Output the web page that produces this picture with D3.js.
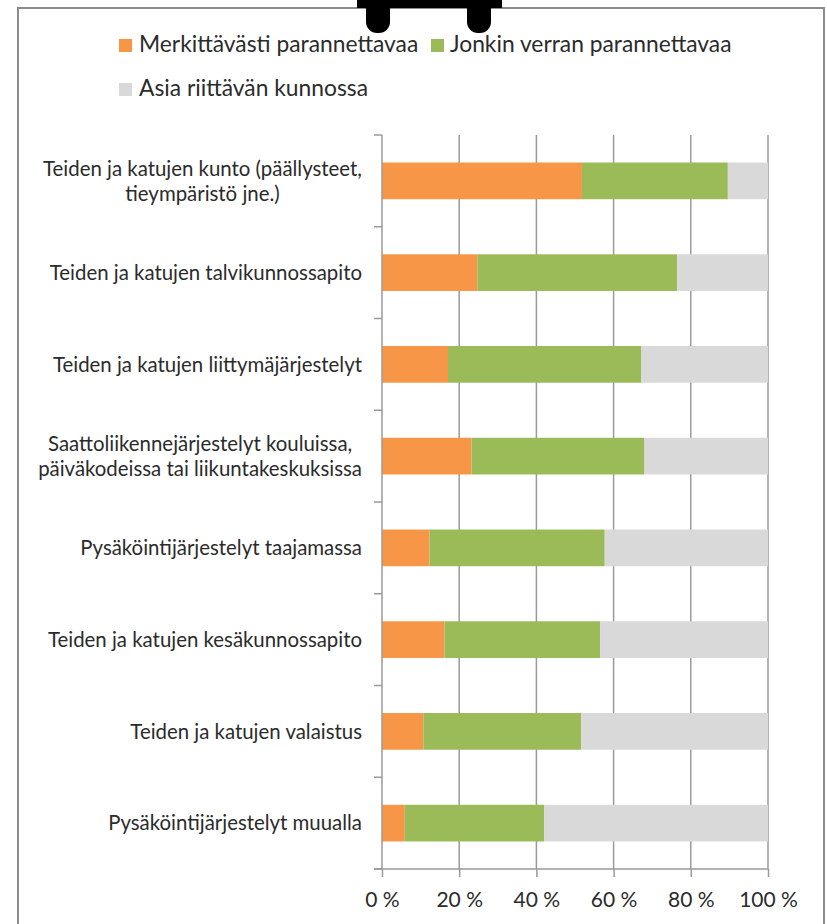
<!DOCTYPE html>
<html><head><meta charset="utf-8">
<script src="https://cdn.jsdelivr.net/npm/d3@7"></script>
<style>
html,body{margin:0;padding:0;background:#fff;}
svg{display:block;}
text{font-family:Lato,"Open Sans",sans-serif;fill:#2b2b2b;}
</style></head>
<body>
<script>
const categories = [
  ["Teiden ja katujen kunto (päällysteet,", "tieympäristö jne.)"],
  ["Teiden ja katujen talvikunnossapito"],
  ["Teiden ja katujen liittymäjärjestelyt"],
  ["Saattoliikennejärjestelyt kouluissa,", "päiväkodeissa tai liikuntakeskuksissa"],
  ["Pysäköintijärjestelyt taajamassa"],
  ["Teiden ja katujen kesäkunnossapito"],
  ["Teiden ja katujen valaistus"],
  ["Pysäköintijärjestelyt muualla"]
];
const seriesNames = ["Merkittävästi parannettavaa", "Jonkin verran parannettavaa", "Asia riittävän kunnossa"];
const merkittavasti = [51.8, 24.7, 17.1, 23.2, 12.3, 16.2, 10.7, 5.9];
const jonkinVerran  = [37.8, 51.8, 50.0, 44.8, 45.4, 40.3, 40.9, 36.1];
const riittava      = [10.4, 23.5, 32.9, 32.0, 42.3, 43.5, 48.4, 58.0];
const tickValues = [0, 20, 40, 60, 80, 100];
const tickLabels = ["0 %", "20 %", "40 %", "60 %", "80 %", "100 %"];
const colors = ["#F79646", "#9BBB59", "#D9D9D9"];

const W = 827, H = 924;
const svg = d3.select("body").append("svg").attr("width", W).attr("height", H);

// outer frame
svg.append("rect").attr("x", 18).attr("y", 8).attr("width", 806).attr("height", 940)
  .attr("fill", "#fff").attr("stroke", "#8c8c8c").attr("stroke-width", 2);

// black clip shape at top
const blk = svg.append("g").attr("fill", "#000");
blk.append("rect").attr("x", 357).attr("y", -5).attr("width", 145).attr("height", 13);
blk.append("rect").attr("x", 366).attr("y", -12).attr("width", 24).attr("height", 45).attr("rx", 11);
blk.append("rect").attr("x", 467).attr("y", -12).attr("width", 24).attr("height", 45).attr("rx", 11);

const x0 = 382, x1 = 768, yTop = 135, yBot = 869;
const x = d3.scaleLinear().domain([0, 100]).range([x0, x1]);
const y = d3.scaleBand().domain(d3.range(categories.length)).range([yTop, yBot])
  .paddingInner(0.6).paddingOuter(0.3);

// gridlines
svg.append("g").selectAll("line").data(tickValues.slice(1)).join("line")
  .attr("x1", d => x(d)).attr("x2", d => x(d)).attr("y1", yTop).attr("y2", yBot)
  .attr("stroke", "#9a9a9a").attr("stroke-width", 1.5);

// stacked bars
const rows = categories.map((c, i) => ({i, vals: [merkittavasti[i], jonkinVerran[i], riittava[i]]}));
const stack = d3.stack().keys([0, 1, 2]).value((d, k) => d.vals[k]);
const stacked = stack(rows);
svg.append("g").selectAll("g").data(stacked).join("g")
  .attr("fill", (d, k) => colors[k])
  .selectAll("rect").data(d => d).join("rect")
  .attr("x", d => x(d[0])).attr("width", d => x(d[1]) - x(d[0]))
  .attr("y", d => y(d.data.i)).attr("height", y.bandwidth());

// left axis
const step = (yBot - yTop) / categories.length;
const boundaries = d3.range(categories.length + 1).map(i => yTop + i * step);
svg.append("line").attr("x1", x0).attr("x2", x0).attr("y1", yTop).attr("y2", yBot)
  .attr("stroke", "#9a9a9a").attr("stroke-width", 1.5);
svg.append("g").selectAll("line").data(boundaries).join("line")
  .attr("x1", x0 - 8).attr("x2", x0).attr("y1", d => d).attr("y2", d => d)
  .attr("stroke", "#9a9a9a").attr("stroke-width", 1.5);

// bottom axis
const xAxis = d3.axisBottom(x).tickValues(tickValues).tickFormat((d, i) => tickLabels[i])
  .tickSize(8).tickSizeOuter(0);
const gx = svg.append("g").attr("transform", `translate(0,${yBot})`).call(xAxis);
gx.select(".domain").remove();
gx.selectAll(".tick line").attr("stroke", "#9a9a9a").attr("stroke-width", 1.5);
gx.selectAll(".tick text").attr("font-size", 21).attr("dy", null).attr("y", 38)
  .style("font-family", "Lato").attr("fill", "#2b2b2b");
svg.append("line").attr("x1", x0 - 8).attr("x2", x1).attr("y1", yBot).attr("y2", yBot)
  .attr("stroke", "#9a9a9a").attr("stroke-width", 1.5);

// category labels
const labelRight = 362, lineH = 25, labelFs = 20.4;
categories.forEach((lines, i) => {
  const cy = y(i) + y.bandwidth() / 2;
  const g = svg.append("g");
  const ts = lines.map((ln, j) => g.append("text").attr("font-size", labelFs)
    .attr("y", cy + (j - (lines.length - 1) / 2) * lineH).attr("dy", "0.36em").text(ln));
  const maxW = d3.max(ts, t => t.node().getComputedTextLength());
  ts.forEach(t => t.attr("text-anchor", "middle").attr("x", labelRight - maxW / 2));
});

// legend
const legendItems = [
  {name: seriesNames[0], c: colors[0], sx: 119, tx: 139, by: 52},
  {name: seriesNames[1], c: colors[1], sx: 431, tx: 450, by: 52},
  {name: seriesNames[2], c: colors[2], sx: 119, tx: 139, by: 96}
];
const lg = svg.append("g");
legendItems.forEach(it => {
  lg.append("rect").attr("x", it.sx).attr("y", it.by - 13).attr("width", 13).attr("height", 13).attr("fill", it.c);
  lg.append("text").attr("x", it.tx).attr("y", it.by).attr("font-size", 22.8).text(it.name);
});
</script>
</body></html>
